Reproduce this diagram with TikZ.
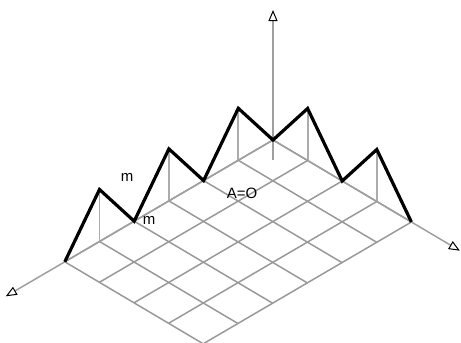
\documentclass[tikz,border=0pt]{standalone}
\usepackage{fontspec}
\setmainfont{Liberation Sans}
\usetikzlibrary{arrows.meta}

\begin{document}
\begin{tikzpicture}[
  x=1pt, y=-1pt,
  grid line/.style={draw=gray!80, line width=1.5pt},
  post/.style={draw=gray!65, line width=1.9pt},
  ridge/.style={draw=black, line width=3.2pt, line join=miter},
  axis/.style={draw=gray!75, line width=1.5pt, -{Triangle[open, length=11pt, width=9pt, color=black, line width=1pt]}},
  lbl/.style={font=\fontsize{15}{17}\selectfont, inner sep=0pt}
]
\useasboundingbox (0,0) rectangle (461,343);

\begin{scope}[shift={(273pt,-140pt)}, x={(-34.7pt,-20.3pt)}, y={(34.6pt,-20.5pt)}, z={(0pt,52pt)}]
  % base grid, 6 by 4 cells
  \foreach \i in {0,...,6}
    \draw[grid line] (\i,0,0) -- (\i,4,0);
  \foreach \j in {0,...,4}
    \draw[grid line] (0,\j,0) -- (6,\j,0);

  \coordinate (O) at (0,0,0);
  \coordinate (zlow) at (0,0,-0.38);
  \coordinate (xtip) at (7.7,0,0);
  \coordinate (ytip) at (0,5.4,0);
  \coordinate (ztip) at (0,0,2.5);

  % ridge corners along the two edges
  \foreach \k in {0,...,6} {
    \coordinate (L\k) at (\k,0,0);
    \coordinate (LT\k) at (\k,0,1);
  }
  \foreach \k in {0,...,4} {
    \coordinate (R\k) at (0,\k,0);
    \coordinate (RT\k) at (0,\k,1);
  }

  % posts under the peaks
  \foreach \k in {1,3,5}
    \draw[post] (L\k) -- (LT\k);
  \foreach \k in {1,3}
    \draw[post] (R\k) -- (RT\k);

  % axes
  \draw[axis] (O) -- (xtip);
  \draw[axis] (O) -- (ytip);
  \draw[axis] (zlow) -- (ztip);

  % zigzag ridge
  \draw[ridge] (L6) -- (LT5) -- (L4) -- (LT3) -- (L2) -- (LT1) -- (O)
    -- (RT1) -- (R2) -- (RT3) -- (R4);
\end{scope}

\node[lbl] (mtop) at (127,177) {m};
\node[lbl] (mlow) at (149,220) {m};
\node[lbl] (eq) at (242,193) {A=O};
\end{tikzpicture}
\end{document}
